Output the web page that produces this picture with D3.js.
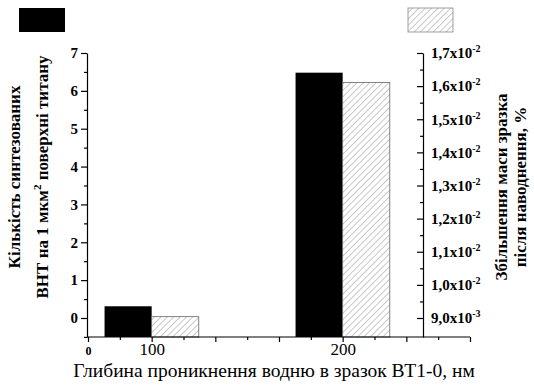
<!DOCTYPE html>
<html>
<head>
<meta charset="utf-8">
<script src="https://cdn.jsdelivr.net/npm/d3@7"></script>
<style>
  body { margin: 0; background: #fff; }
  svg { display: block; }
  svg text { font-family: "Liberation Serif", "Times New Roman", serif; }
</style>
</head>
<body>
<script>
// ---- data ----
const depths = ["100", "200"];          // x categories, nm
const depthSlot = [1, 4];               // where each category sits on the x axis
const tubeCount = [0.31, 6.48];         // left axis: nanotubes per 1 um^2
const massGain = [9.04e-3, 1.611e-2];   // right axis: mass increase, %

const leftTicks = [0, 1, 2, 3, 4, 5, 6, 7];
const rightTicks = [9.0e-3, 1.0e-2, 1.1e-2, 1.2e-2, 1.3e-2, 1.4e-2, 1.5e-2, 1.6e-2, 1.7e-2];
const xSlots = [0, 1, 2, 3, 4, 5, 6];
const xLabels = { 0: "0", 1: "100", 4: "200" };

// ---- layout ----
const W = 534, H = 386;
const left = 87, right = 423, xEnd = 470;
const yZero = 318, yTop = 53, bottom = 337;
const barW = 0.74;

const svg = d3.select("body").append("svg")
    .attr("width", W)
    .attr("height", H);

// hatch for the second series
const pat = svg.append("defs").append("pattern")
    .attr("id", "hatch")
    .attr("patternUnits", "userSpaceOnUse")
    .attr("width", 4.5)
    .attr("height", 4.5)
    .attr("patternTransform", "rotate(45)");
pat.append("rect").attr("width", 4.5).attr("height", 4.5).attr("fill", "#fff");
pat.append("line")
    .attr("x1", 0).attr("y1", 0).attr("x2", 0).attr("y2", 4.5)
    .attr("stroke", "#888").attr("stroke-width", 0.9);

// scales
const x = d3.scaleLinear().domain([0, 6]).range([left + 1, xEnd]);

const yL = d3.scaleLinear().domain([0, 7]).range([yZero, yTop]);
yL.domain([yL.invert(bottom), 7]).range([bottom, yTop]);

const yR = d3.scaleLinear().domain([9.0e-3, 1.7e-2]).range([yZero, yTop]);
yR.domain([yR.invert(bottom), 1.7e-2]).range([bottom, yTop]);

// bars: black to the left of the category, hatched to the right
svg.append("g")
    .selectAll("rect")
    .data(depths)
    .join("rect")
    .attr("x", (d, i) => x(depthSlot[i] - barW))
    .attr("width", x(barW) - x(0))
    .attr("y", (d, i) => yL(tubeCount[i]))
    .attr("height", (d, i) => bottom - yL(tubeCount[i]))
    .attr("fill", "#000");

svg.append("g")
    .selectAll("rect")
    .data(depths)
    .join("rect")
    .attr("x", (d, i) => x(depthSlot[i]))
    .attr("width", x(barW) - x(0))
    .attr("y", (d, i) => yR(massGain[i]))
    .attr("height", (d, i) => bottom - yR(massGain[i]))
    .attr("fill", "url(#hatch)")
    .attr("stroke", "#666")
    .attr("stroke-width", 0.8);

// left axis
const gl = svg.append("g")
    .attr("transform", `translate(${left},0)`)
    .call(d3.axisLeft(yL).tickValues(leftTicks).tickSize(6).tickPadding(3).tickSizeOuter(0));
gl.append("g")
    .call(d3.axisLeft(yL).tickValues(d3.range(-0.5, 7, 1)).tickSize(3).tickFormat(""))
    .select(".domain").remove();

// right axis (ticks point inward)
const sup = v => {
    const e = Math.floor(Math.log10(v) + 1e-9);
    return { m: (v / Math.pow(10, e)).toFixed(1).replace(".", ","), e: e };
};
const gr = svg.append("g")
    .attr("transform", `translate(${right},0)`)
    .call(d3.axisRight(yR).tickValues(rightTicks).tickSize(-6).tickPadding(8).tickSizeOuter(0).tickFormat(""));
gr.selectAll(".tick text").each(function (d) {
    const s = sup(d);
    const t = d3.select(this).attr("x", 8);
    t.append("tspan").text(s.m + "x10");
    t.append("tspan").attr("dy", -6).attr("font-size", 10).text(s.e);
});
gr.append("g")
    .call(d3.axisRight(yR).tickValues(d3.range(9.5e-3, 1.7e-2, 1e-3)).tickSize(-3).tickFormat(""))
    .select(".domain").remove();

// bottom axis
const gx = svg.append("g")
    .attr("transform", `translate(0,${bottom})`)
    .call(d3.axisBottom(x).tickValues(xSlots).tickSize(5).tickPadding(4).tickSizeOuter(0)
        .tickFormat(d => xLabels[d] || ""));
gx.append("g")
    .call(d3.axisBottom(x).tickValues(d3.range(0.5, 6, 1)).tickSize(3).tickFormat(""))
    .select(".domain").remove();
gx.select(".domain").attr("d", `M${left},0H${xEnd}`);

[gl, gr, gx].forEach(g => {
    g.attr("font-family", null);
    g.selectAll(".domain, line").attr("stroke", "#000").attr("stroke-width", 1.2);
    g.selectAll("text")
        .attr("fill", "#000")
        .attr("font-size", 15)
        .attr("font-weight", "bold");
});
gx.selectAll(".tick text")
    .attr("dy", null)
    .attr("y", 18)
    .attr("font-size", d => d === 0 ? 12 : 17)
    .attr("font-weight", d => d === 0 ? "bold" : "normal");

// axis titles
svg.append("text")
    .attr("transform", `translate(274,377)`)
    .attr("text-anchor", "middle")
    .attr("font-size", 19.5)
    .text("Глибина проникнення водню в зразок ВТ1-0, нм");

const lt = svg.append("g")
    .attr("transform", `translate(20,177) rotate(-90)`)
    .attr("text-anchor", "middle")
    .attr("font-size", 17)
    .attr("font-weight", "bold");
lt.append("text").text("Кількість синтезованих");
const l2 = lt.append("text").attr("y", 28);
l2.append("tspan").text("ВНТ на 1 мкм");
l2.append("tspan").attr("dy", -7).attr("font-size", 11).text("2");
l2.append("tspan").attr("dy", 7).text(" поверхні титану");

const rt = svg.append("g")
    .attr("transform", `translate(507,187) rotate(-90)`)
    .attr("text-anchor", "middle")
    .attr("font-size", 17)
    .attr("font-weight", "bold");
rt.append("text").text("Збільшення маси зразка");
rt.append("text").attr("y", 19).text("після наводнення, %");

// legend swatches (no text in the original)
svg.append("rect")
    .attr("x", 19).attr("y", 8).attr("width", 46).attr("height", 24)
    .attr("fill", "#000");
svg.append("rect")
    .attr("x", 408).attr("y", 8).attr("width", 45).attr("height", 24)
    .attr("fill", "url(#hatch)")
    .attr("stroke", "#888")
    .attr("stroke-width", 0.8);
</script>
</body>
</html>
